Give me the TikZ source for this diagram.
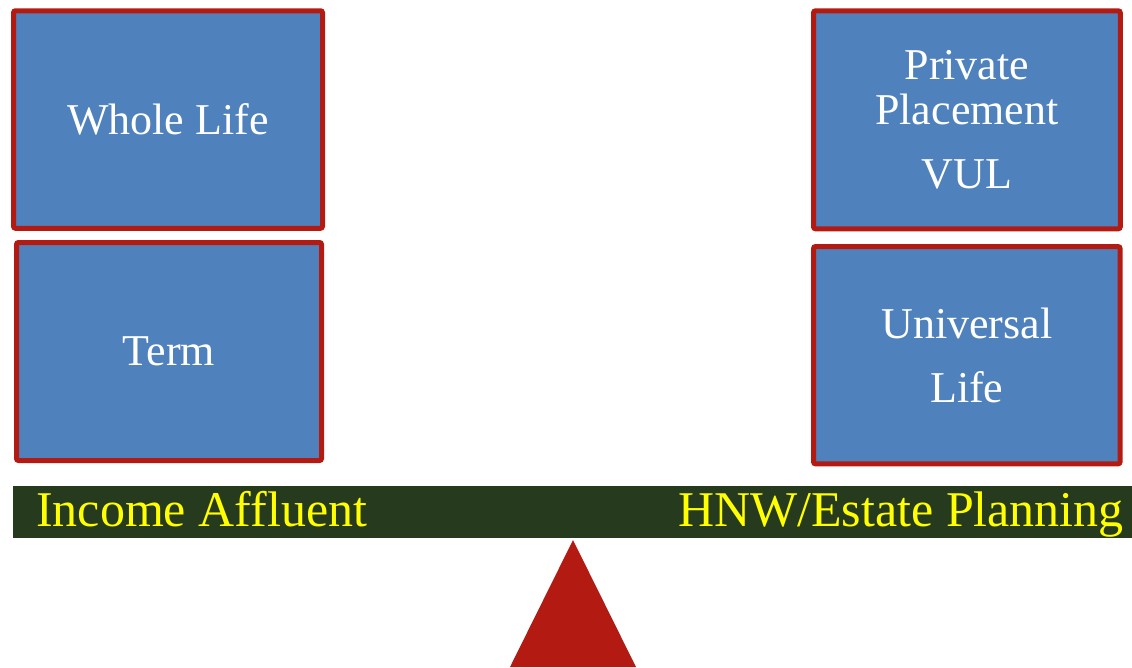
\documentclass[tikz,border=0pt]{standalone}
\usepackage{fontspec}
\setmainfont{Liberation Serif}
\definecolor{boxblue}{HTML}{4F81BD}
\definecolor{boxred}{HTML}{B31B12}
\definecolor{bargreen}{HTML}{263A1E}
\definecolor{labelyellow}{HTML}{FFFF00}
\begin{document}
\begin{tikzpicture}[x=1pt, y=-1pt,
  plan/.style={draw=boxred, line width=5pt, fill=boxblue, rounded corners=2pt,
    inner sep=0pt, text=white, align=center,
    font=\fontsize{44}{45}\selectfont},
  barlabel/.style={inner sep=0pt, text=labelyellow,
    font=\fontsize{50}{51}\selectfont}]
  \useasboundingbox (0,0) rectangle (1132,667);

  % product boxes, left (income / affluent) side
  \node[plan, minimum width=309pt, minimum height=217.5pt] (whole) at (168,119.5) {Whole Life};
  \node[plan, minimum width=305pt, minimum height=218pt] (term) at (169,351.5) {Term};

  % product boxes, right (HNW / estate planning) side
  \node[plan, minimum width=306.7pt, minimum height=218pt] (ppvul) at (966.9,119.8)
    {Private\\Placement\\[19pt]VUL};
  \node[plan, minimum width=306.5pt, minimum height=217.3pt] (ul) at (966.8,355.2)
    {Universal\\[19pt]Life};

  % the beam of the scale
  \node[fill=bargreen, inner sep=0pt, minimum width=1119pt, minimum height=52pt] (beam) at (572.5,512) {};
  \node[barlabel, anchor=base west] (income) at (36,526) {Income Affluent};
  \node[barlabel, anchor=base east] (hnw) at (1124,526) {HNW/Estate Planning};

  % the fulcrum
  \coordinate (apex) at (573,540);
  \coordinate (baseL) at (510,667);
  \coordinate (baseR) at (636,667);
  \fill[boxred] (apex) -- (baseR) -- (baseL) -- cycle;
\end{tikzpicture}
\end{document}
